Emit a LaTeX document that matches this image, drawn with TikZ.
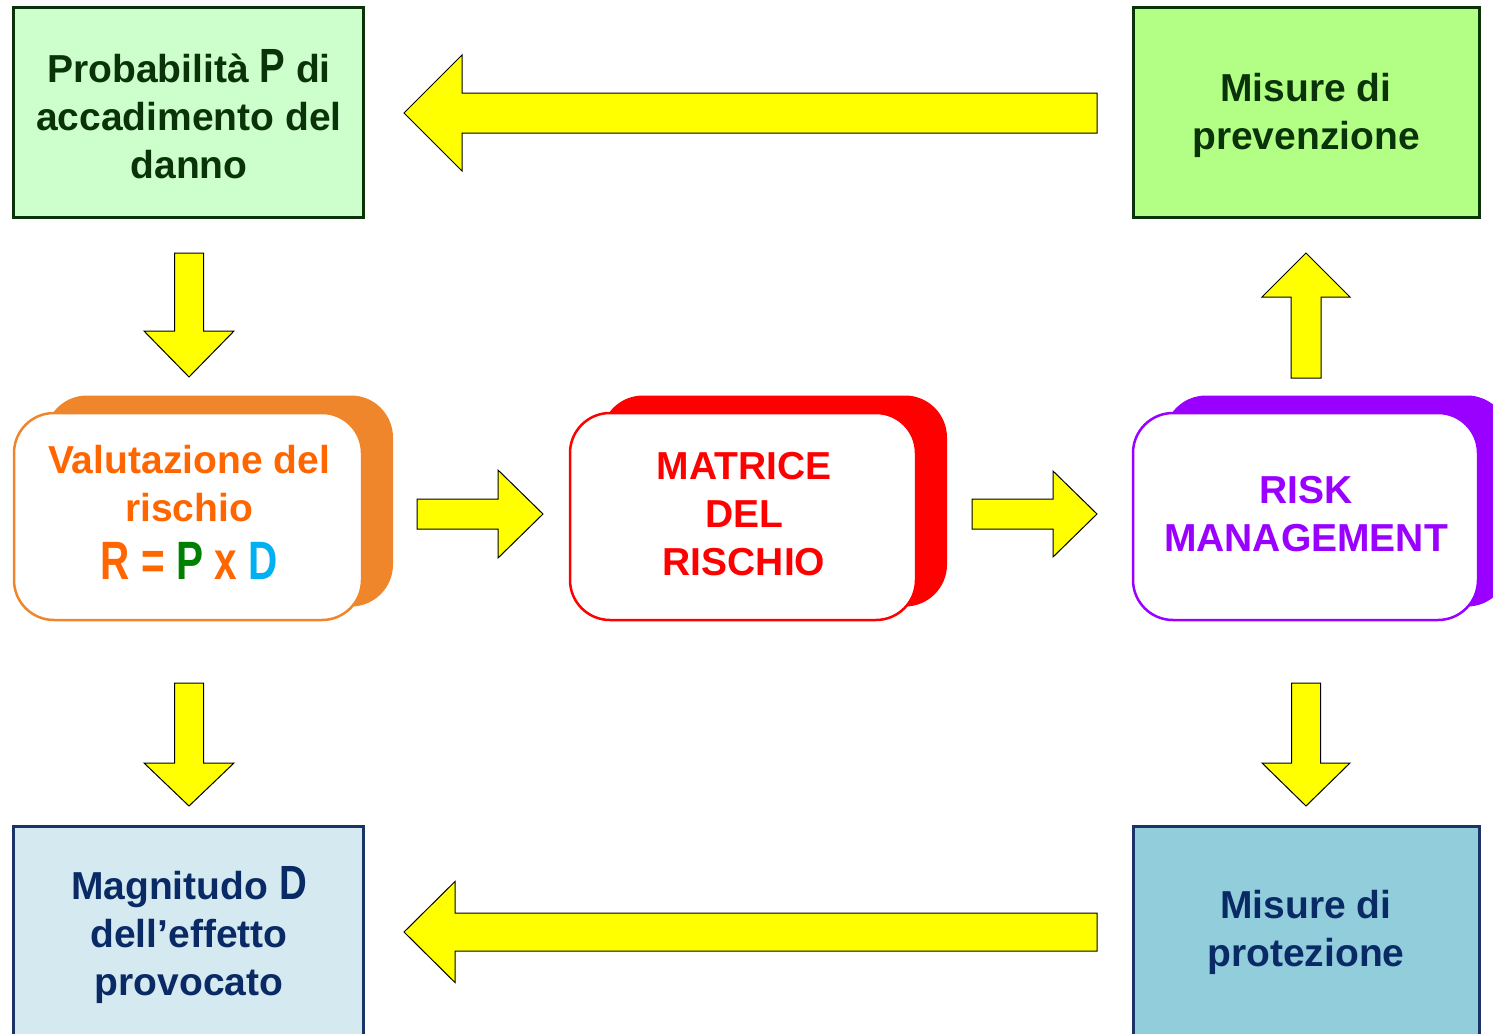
\documentclass[tikz,border=0pt]{standalone}
\usepackage{fontspec}
\usepackage{graphicx}
\setmainfont{Liberation Sans}
\usetikzlibrary{calc}

\definecolor{dkgreen}{HTML}{0A330A}
\definecolor{palegreen}{HTML}{CCFFCC}
\definecolor{limegreen}{HTML}{B3FF85}
\definecolor{navytext}{HTML}{0A2A66}
\definecolor{navyline}{HTML}{1A3468}
\definecolor{paleblue}{HTML}{D5EAF0}
\definecolor{tealblue}{HTML}{92CDDC}
\definecolor{orangeline}{HTML}{F0862C}
\definecolor{orangetext}{HTML}{FF6600}
\definecolor{redline}{HTML}{FF0000}
\definecolor{purpleline}{HTML}{9900FF}
\definecolor{formulagreen}{HTML}{008000}
\definecolor{formulablue}{HTML}{00B0F0}
\definecolor{arrowyellow}{HTML}{FFFF00}

% tall narrow capital letter
\newcommand\tallcap[2]{{\fontsize{#1}{#1}\selectfont\scalebox{0.8}[1]{#2}}}

% block arrow: name, tail, tip, half shaft width, half head width, head length
\newcommand\blockarrow[6]{%
  \coordinate (#1-b) at ($(#3)!#6!(#2)$);
  \draw[arrowbody] ($(#2)!#4!90:(#3)$) -- ($(#1-b)!#4!90:(#3)$)
    -- ($(#1-b)!#5!90:(#3)$) -- (#3) -- ($(#1-b)!#5!-90:(#3)$)
    -- ($(#1-b)!#4!-90:(#3)$) -- ($(#2)!#4!-90:(#3)$) -- cycle;}

\begin{document}
\begin{tikzpicture}[x=1pt,y=-1pt,
  squarebox/.style={rectangle, draw, line width=3pt, inner sep=0pt},
  frontbox/.style={rectangle, rounded corners=40pt, draw, fill=white,
    line width=2.5pt, inner sep=0pt, minimum height=207pt},
  backbox/.style={rectangle, rounded corners=42pt, inner sep=0pt,
    minimum height=211pt},
  label/.style={align=center, inner sep=0pt,
    font=\fontsize{39}{48}\selectfont\bfseries},
  arrowbody/.style={draw=black, line width=1pt, fill=arrowyellow, line join=miter}]

\useasboundingbox (0,0) rectangle (1493,1033);
\clip (0,0) rectangle (1493,1033);
\fill[white] (0,0) rectangle (1493,1033);

% corner boxes
\node[squarebox, draw=dkgreen, fill=palegreen, minimum width=350pt, minimum height=209pt]
  (prob) at (188,112.5) {};
\node[squarebox, draw=dkgreen, fill=limegreen, minimum width=346pt, minimum height=209pt]
  (prev) at (1306,112.5) {};
\node[squarebox, draw=navyline, fill=paleblue, minimum width=350pt, minimum height=219pt]
  (magn) at (188,935.5) {};
\node[squarebox, draw=navyline, fill=tealblue, minimum width=346pt, minimum height=219pt]
  (prot) at (1306,935.5) {};

% shadowed rounded boxes
\node[backbox, fill=orangeline, minimum width=348pt] (valback) at (219,501) {};
\node[frontbox, draw=orangeline, minimum width=348pt] (val) at (188,516.5) {};
\node[backbox, fill=redline, minimum width=346pt] (matback) at (774,501) {};
\node[frontbox, draw=redline, minimum width=346pt] (mat) at (743,516.5) {};
\node[backbox, fill=purpleline, minimum width=345pt] (riskback) at (1336.5,501) {};
\node[frontbox, draw=purpleline, minimum width=345pt] (risk) at (1305.5,516.5) {};

% texts
\node[label, text=dkgreen] (probtext) at (189,114)
  {Probabilità \tallcap{48}{P} di\\accadimento del\\danno};
\node[label, text=dkgreen] (prevtext) at (1306,115) {Misure di\\prevenzione};
\node[label, text=orangetext] (valtext) at (189,512)
  {Valutazione del\\rischio\\[10pt]
   \scalebox{0.75}[1]{\fontsize{54}{54}\selectfont R = \textcolor{formulagreen}{P} x \textcolor{formulablue}{D}}};
\node[label, text=redline] (mattext) at (744,514) {MATRICE\\DEL\\RISCHIO};
\node[label, text=purpleline] (risktext) at (1306,514) {RISK\\MANAGEMENT};
\node[label, text=navytext] (magntext) at (189,935)
  {Magnitudo \tallcap{48}{D}\\dell’effetto\\provocato};
\node[label, text=navytext] (prottext) at (1306,932.5) {Misure di\\protezione};

% arrow ends
\coordinate (a1t) at (1097,113);  \coordinate (a1h) at (404,113);
\coordinate (a2t) at (1097,932);  \coordinate (a2h) at (404,932);
\coordinate (a3t) at (189,253);   \coordinate (a3h) at (189,377);
\coordinate (a4t) at (189,683);   \coordinate (a4h) at (189,806);
\coordinate (a5t) at (1306,378);  \coordinate (a5h) at (1306,253);
\coordinate (a6t) at (1306,683);  \coordinate (a6h) at (1306,806);
\coordinate (a7t) at (417,514);   \coordinate (a7h) at (543,514);
\coordinate (a8t) at (972,514);   \coordinate (a8h) at (1097,514);

\blockarrow{a1}{a1t}{a1h}{20pt}{58pt}{58pt}
\blockarrow{a2}{a2t}{a2h}{19pt}{50.5pt}{51pt}
\blockarrow{a3}{a3t}{a3h}{14.5pt}{45pt}{46pt}
\blockarrow{a4}{a4t}{a4h}{14.5pt}{45pt}{43pt}
\blockarrow{a5}{a5t}{a5h}{15pt}{44pt}{44pt}
\blockarrow{a6}{a6t}{a6h}{14.5pt}{44pt}{43pt}
\blockarrow{a7}{a7t}{a7h}{15pt}{44pt}{45pt}
\blockarrow{a8}{a8t}{a8h}{15pt}{43pt}{44pt}
\end{tikzpicture}
\end{document}
